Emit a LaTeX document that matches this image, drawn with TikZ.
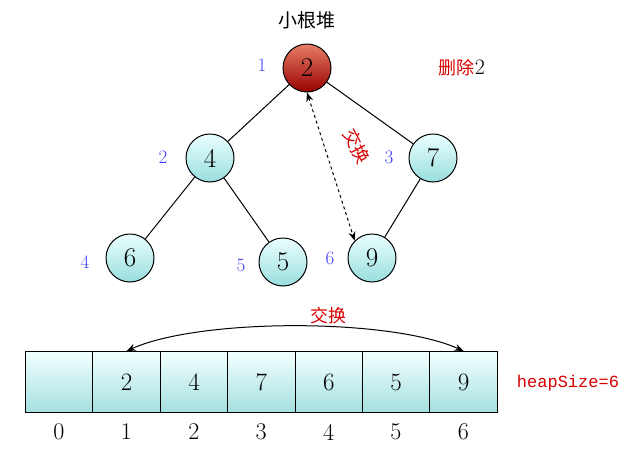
\documentclass[tikz,border=0pt]{standalone}
\usepackage{fontspec}
\newfontfamily\cjk{Noto Sans CJK SC}
\newfontfamily\mono{Liberation Mono}
\usetikzlibrary{arrows.meta,shadings}
\begin{document}
\begin{tikzpicture}[x=1pt,y=-1pt,
  hn/.style={circle,draw=black,line width=1pt,minimum size=48pt,inner sep=0pt,top color=cyan!8,bottom color=cyan!35!teal!40,font=\fontsize{27}{28}\selectfont},
  rn/.style={hn,top color=red!45!brown!70,bottom color=red!60!black},
  idx/.style={text=blue!75,font=\fontsize{19}{20}\selectfont},
  cell/.style={draw=black,line width=1pt,minimum width=67.4pt,minimum height=61pt,inner sep=0pt,anchor=north west,top color=cyan!5,bottom color=cyan!30!teal!35,font=\fontsize{25}{26}\selectfont},
  lab/.style={font=\fontsize{24}{25}\selectfont},
  rtext/.style={text=red!85!black},
  tip/.style={line width=1pt,{Stealth[length=9pt,width=7pt]}-{Stealth[length=9pt,width=7pt]}}]
\useasboundingbox (0,0) rectangle (640,450);
\node[rn] (r) at (307,68) {2};
\node[hn] (a) at (210,158) {4};
\node[hn] (b) at (433,158) {7};
\node[hn] (c) at (130,258) {6};
\node[hn] (d) at (283,262) {5};
\node[hn] (e) at (372,258) {9};
\draw[line width=1pt] (r)--(a) (r)--(b) (a)--(c) (a)--(d) (b)--(e);
\draw[tip,dashed] (r.south) -- (e.north west);
\node[rtext,font=\cjk\fontsize{18}{18}\selectfont,rotate=-62] (sw) at (357,146) {交换};
\node[idx] (i1) at (262,65) {1};
\node[idx] (i2) at (163,157) {2};
\node[idx] (i3) at (389,157) {3};
\node[idx] (i4) at (85,262) {4};
\node[idx] (i5) at (241,265) {5};
\node[idx] (i6) at (330,258) {6};
\node[font=\cjk\fontsize{19}{20}\selectfont] (t) at (307,20) {小根堆};
\node[font=\cjk\fontsize{18}{18}\selectfont] (del) at (462,68) {\textcolor{red!85!black}{删除}\rmfamily\fontsize{22}{22}\selectfont 2};
\foreach \i/\v in {0/,1/2,2/4,3/7,4/6,5/5,6/9}{
  \node[cell] (c\i) at (25+67.4*\i,351) {\v};
  \node[lab] (n\i) at (59+67.4*\i,432) {\i};
}
\draw[tip] (c1.north) .. controls (200,318) and (390,318) .. (c6.north);
\node[rtext,font=\cjk\fontsize{18}{18}\selectfont] (sw2) at (328,316) {交换};
\node[rtext,font=\mono\fontsize{17}{18}\selectfont] (hs) at (568,383) {heapSize=6};
\end{tikzpicture}
\end{document}
